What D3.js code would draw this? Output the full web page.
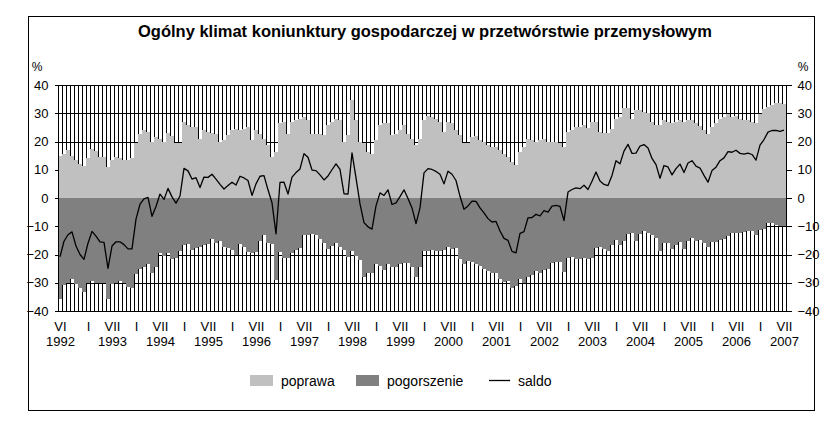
<!DOCTYPE html>
<html><head><meta charset="utf-8">
<script src="https://cdn.jsdelivr.net/npm/d3@7"></script>
<style>
html,body{margin:0;padding:0;background:#fff;}
svg{display:block;}
text{font-family:"Liberation Sans",Arial,sans-serif;fill:#000;}
</style></head>
<body>
<svg id="chart" width="832" height="425"></svg>
<script>
// ---- data ----
const startYear = 1992, startMonth = 6, monthCount = 182; // VI 1992 .. VII 2007
const categories = [];
for (let k = 0; k < monthCount; k++) {
  const m = startMonth - 1 + k;
  const yy = startYear + Math.floor(m / 12), mm = (m % 12) + 1;
  categories.push(yy + "-" + String(mm).padStart(2, "0"));
}
const poprawa = [
 15,15.5,17,15,13.5,12,11.5,
 14,17.5,16.5,14.5,14.5,11,13.5,14.5,14,13.5,13.5,14,
 19.5,22.8,24,23.5,20,21.5,21,20,23,22,19.5,19.5,
 27,26,25,25,21,24,23.5,23,22.5,20,20.4,22.2,
 24,24.6,24,24.6,25.2,20.4,24,22.8,21,18.7,14.5,16.3,
 26.4,27,22.8,27,27.5,28.1,28.7,27.5,22.8,22.8,22.8,22.2,
 25.8,27,28.1,27.5,20,22.4,34.6,27.5,19.9,19.3,16.3,15.5,
 20.4,25.8,26.4,26.4,22.2,22.8,24,25.8,22.8,21,18.7,21,
 27.5,29,28.5,28,27,23.4,27,26.4,24,22.2,19.5,19.5,
 21.5,22,20.5,19.9,18.7,18.1,18.1,16.9,15.5,14.5,12.8,11.6,
 16.3,18.1,21,20.4,20,20.4,21,20,20,19.9,19.5,18.1,
 23.5,24,25.3,25,25.9,24.7,27,26.8,23.5,23,23,24.6,
 28.1,28.7,31.7,31.7,28.1,31.1,31.1,30.5,30,27,25.8,25.8,
 27.5,27,26.4,27,27.5,27,27.5,27.5,26.4,25.5,24,22.8,
 25.2,26.4,28.1,28.8,29.9,28.7,29.2,28.1,27.5,27.5,27,26.4,
 29.9,31.5,32.3,32.9,33.5,33.5,33.2
];
const pogorszenie = [
 -35.8,-30.8,-30,-28.5,-30.5,-32,-33.2,
 -30,-29.3,-30,-30,-30.2,-35.9,-30.5,-30,-29.5,-30,-31.5,-32,
 -27,-25,-24.3,-23.3,-26.5,-24.5,-19.6,-20.5,-19.6,-21.6,-21.3,-18.8,
 -16.5,-16.4,-18.3,-17.8,-17.3,-16.6,-16.2,-14.6,-15.8,-15.2,-17.2,-17.8,
 -18.4,-20,-16.3,-17.5,-19,-19.5,-19,-15.1,-13.1,-15.8,-16.2,-29,
 -19,-21.4,-21.4,-19.6,-18.5,-17.8,-13,-13.1,-12.9,-13.1,-14.6,-15.8,
 -18,-17,-16,-17.4,-18.5,-21,-18.6,-20.4,-22,-28,-26.5,-26.5,
 -23.2,-24,-25.5,-23.5,-24.5,-24.5,-23.5,-22.9,-23,-24.5,-27.8,-24.5,
 -18.6,-18.6,-18.4,-18.6,-18.6,-18.4,-17.5,-18,-17.8,-21.6,-23.5,-22.3,
 -22.6,-23.2,-24,-25.2,-26,-26.6,-26.4,-28.6,-29.8,-29.5,-31.7,-31,
 -28.8,-30,-28,-27.3,-25.8,-26.7,-25.5,-25,-22.9,-22.5,-22.5,-26.1,
 -21.4,-21,-21.7,-21.7,-21.4,-21.7,-21.1,-17.6,-17.5,-18.2,-18.6,-16.6,
 -14.9,-16.6,-15.1,-12.7,-12.3,-15.2,-12.7,-11.6,-12.3,-13,-14,-18.8,
 -16,-16,-18.2,-16.6,-15.5,-18,-15.1,-14.3,-15.1,-14.9,-16,-17.2,
 -15.5,-15.5,-14.9,-14.6,-13.5,-12.5,-12.3,-12.3,-12,-11.6,-11.6,-13,
 -11.2,-10.8,-9,-9,-9.6,-9.9,-9.9
];
const saldo = [
 -20.8,-15.3,-13,-12,-17,-20,-21.7,
 -16,-11.8,-13.5,-15.5,-15.7,-24.9,-17,-15.5,-15.5,-16.5,-18,-18,
 -7.5,-2.2,-0.3,0.2,-6.5,-3,1.4,-0.5,3.4,0.4,-1.8,0.7,
 10.5,9.6,6.7,7.2,3.7,7.4,7.3,8.4,6.7,4.8,3.2,4.4,
 5.6,4.6,7.7,7.1,6.2,0.9,5,7.7,7.9,2.9,-1.7,-12.7,
 5.5,5.6,1.4,7.4,9,10.3,15.7,14.4,9.9,9.7,8.2,6.4,
 7.8,10,12.1,10.1,1.5,1.4,16,7.1,-2.1,-8.7,-10.2,-11,
 -2.8,1.8,0.9,2.9,-2.3,-1.7,0.5,2.9,-0.2,-3.5,-9.1,-3.5,
 8.9,10.4,10.1,9.4,8.4,5,9.5,8.4,6.2,0.6,-4,-2.8,
 -1.1,-1.2,-3.5,-5.3,-7.3,-8.5,-8.3,-11.7,-14.3,-15,-18.9,-19.4,
 -12.5,-11.9,-7,-6.9,-5.8,-6.3,-4.5,-5,-2.9,-2.6,-3,-8,
 2.1,3,3.6,3.3,4.5,3,5.9,9.2,6,4.8,4.4,8,
 13.2,12.1,16.6,19,15.8,15.9,18.4,18.9,17.7,14,11.8,7,
 11.5,11,8.2,10.4,12,9,12.4,13.2,11.3,10.6,8,5.6,
 9.7,10.9,13.2,14.2,16.4,16.2,16.9,15.8,15.5,15.9,15.4,13.4,
 18.7,20.7,23.3,23.9,23.9,23.6,24
];
const yTicks = [-40,-30,-20,-10,0,10,20,30,40];
const monthTickCats = ["1992-06"];
const monthTickLabels = ["VI"];
for (let y = 1993; y <= 2007; y++) {
  monthTickCats.push(y + "-01", y + "-07");
  monthTickLabels.push("I", "VII");
}
const yearLabels = ["1992","1993","1994","1995","1996","1997","1998","1999","2000","2001","2002","2003","2004","2005","2006","2007"];
const yearLabelCats = ["1992-06","1993-07","1994-07","1995-07","1996-07","1997-07","1998-07","1999-07","2000-07","2001-07","2002-07","2003-07","2004-07","2005-07","2006-07","2007-07"];
const legendItems = [
  {label:"poprawa", type:"rect", color:"#c0c0c0"},
  {label:"pogorszenie", type:"rect", color:"#808080"},
  {label:"saldo", type:"line", color:"#000"}
];

// ---- drawing ----
const svg = d3.select("#chart");
const L = 58.5, R = 786.5, T = 85, B = 311;
const x = d3.scaleBand().domain(categories).range([L, R]).padding(0);
const y = d3.scaleLinear().domain([-40, 40]).range([B, T]);
const cy = v => Math.round(y(v)) + 0.5;

// frame
svg.append("rect").attr("x", 28.5).attr("y", 16.5).attr("width", 786).attr("height", 394)
  .attr("fill", "none").attr("stroke", "#000").attr("stroke-width", 1);

// title
svg.append("text").attr("x", 425).attr("y", 37).attr("text-anchor", "middle")
  .style("font-size", "16.5px").style("font-weight", "bold")
  .text("Ogólny klimat koniunktury gospodarczej w przetwórstwie przemysłowym");

// % labels
svg.append("text").attr("x", 37).attr("y", 71).attr("text-anchor", "middle").style("font-size", "12px").text("%");
svg.append("text").attr("x", 803).attr("y", 71).attr("text-anchor", "middle").style("font-size", "12px").text("%");

const plot = svg.append("g").attr("shape-rendering", "crispEdges");

// horizontal grid
plot.selectAll("line.h").data(yTicks).join("line").attr("class", "h")
  .attr("x1", L).attr("x2", R).attr("y1", d => cy(d)).attr("y2", d => cy(d))
  .attr("stroke", "#000").attr("stroke-width", 1);

// vertical month separators
const seps = categories.map(c => x(c)).concat([R]);
plot.selectAll("line.v").data(seps).join("line").attr("class", "v")
  .attr("x1", d => d).attr("x2", d => d).attr("y1", T).attr("y2", B)
  .attr("stroke", "#000").attr("stroke-width", 1);

// bars
plot.selectAll("rect.pop").data(categories).join("rect").attr("class", "pop")
  .attr("x", c => x(c) - 0.5).attr("width", x.bandwidth())
  .attr("y", (c, i) => y(poprawa[i])).attr("height", (c, i) => y(0) - y(poprawa[i]))
  .attr("fill", "#c0c0c0");
plot.selectAll("rect.pog").data(categories).join("rect").attr("class", "pog")
  .attr("x", c => x(c) - 0.5).attr("width", x.bandwidth())
  .attr("y", y(0)).attr("height", (c, i) => y(pogorszenie[i]) - y(0))
  .attr("fill", "#808080");

// saldo line
const line = d3.line().x((c) => x(c) + x.bandwidth() / 2 - 0.5).y((c, i) => y(saldo[i]));
svg.append("path").datum(categories).attr("d", line)
  .attr("fill", "none").attr("stroke", "#000").attr("stroke-width", 1.3).attr("stroke-linejoin", "round");

// axes
const leftAxis = d3.axisLeft(y).tickValues(yTicks).tickSize(4).tickPadding(6);
const rightAxis = d3.axisRight(y).tickValues(yTicks).tickSize(5).tickPadding(6);
const gl = svg.append("g").attr("transform", `translate(${L},0)`).call(leftAxis);
const gr = svg.append("g").attr("transform", `translate(${R},0)`).call(rightAxis);
[gl, gr].forEach(g => {
  g.select(".domain").attr("stroke", "#000").attr("d", `M0,${T}V${B}`).attr("shape-rendering", "crispEdges");
  g.selectAll(".tick line").attr("stroke", "#000").attr("shape-rendering", "crispEdges");
  g.selectAll(".tick text").style("font-size", "13px").attr("fill", "#000")
    .style("font-family", '"Liberation Sans",Arial,sans-serif');
});

// x labels
svg.selectAll("text.mon").data(monthTickCats).join("text").attr("class", "mon")
  .attr("x", c => x(c) + x.bandwidth() / 2).attr("y", 331).attr("text-anchor", "middle")
  .style("font-size", "13px").text((c, i) => monthTickLabels[i]);
svg.selectAll("text.yr").data(yearLabelCats).join("text").attr("class", "yr")
  .attr("x", c => x(c) + x.bandwidth() / 2).attr("y", 346).attr("text-anchor", "middle")
  .style("font-size", "13px").text((c, i) => yearLabels[i]);

// legend
const legX = [250, 356, 489], legTextX = [281, 387, 518];
const lg = svg.append("g");
legendItems.forEach((d, i) => {
  if (d.type === "rect") {
    lg.append("rect").attr("x", legX[i]).attr("y", 375).attr("width", 23).attr("height", 11).attr("fill", d.color);
  } else {
    lg.append("line").attr("x1", legX[i]).attr("x2", legX[i] + 21).attr("y1", 380.5).attr("y2", 380.5)
      .attr("stroke", d.color).attr("stroke-width", 1.3);
  }
  lg.append("text").attr("x", legTextX[i]).attr("y", 386).style("font-size", "14px").text(d.label);
});
</script>
</body></html>
